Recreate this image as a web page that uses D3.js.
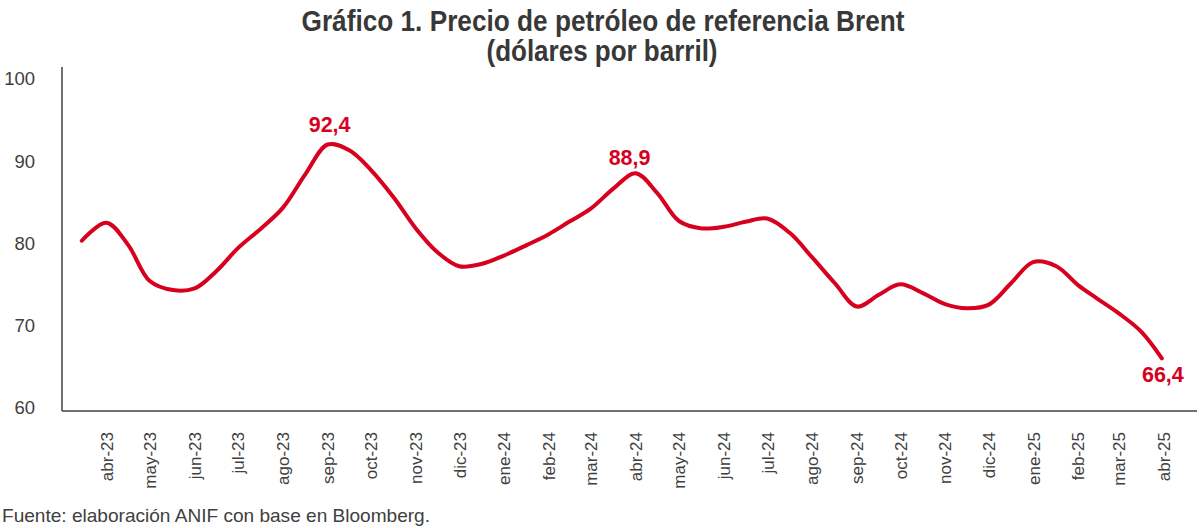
<!DOCTYPE html>
<html>
<head>
<meta charset="utf-8">
<script src="https://cdn.jsdelivr.net/npm/d3@7"></script>
<style>
  body { margin: 0; background: #fff; }
  svg { display: block; font-family: "Liberation Sans", Arial, sans-serif; }
</style>
</head>
<body>
<div id="chart"></div>
<script>
// --- data ---
var months = ["abr-23", "may-23", "jun-23", "jul-23", "ago-23", "sep-23", "oct-23", "nov-23",
              "dic-23", "ene-24", "feb-24", "mar-24", "abr-24", "may-24", "jun-24", "jul-24",
              "ago-24", "sep-24", "oct-24", "nov-24", "dic-24", "ene-25", "feb-25", "mar-25", "abr-25"];
var yTicks = [60, 70, 80, 90, 100];

// Brent
var dates = ["2023-03-30", "2023-04-16", "2023-05-01", "2023-05-16", "2023-06-01", "2023-06-16",
             "2023-07-01", "2023-07-16", "2023-08-01", "2023-08-16", "2023-09-01", "2023-09-16",
             "2023-10-01", "2023-10-16", "2023-11-01", "2023-11-16", "2023-12-01", "2023-12-16",
             "2024-01-01", "2024-01-16", "2024-02-01", "2024-02-16", "2024-03-01", "2024-03-16",
             "2024-04-01", "2024-04-16", "2024-05-01", "2024-05-16", "2024-06-01", "2024-06-16",
             "2024-07-01", "2024-07-16", "2024-08-01", "2024-08-16", "2024-09-01", "2024-09-16",
             "2024-10-01", "2024-10-16", "2024-11-01", "2024-11-16", "2024-12-01", "2024-12-16",
             "2025-01-01", "2025-01-16", "2025-02-01", "2025-02-16", "2025-03-01", "2025-03-16",
             "2025-04-01", "2025-04-15"];
var prices = [80.7, 82.9, 80.2, 75.8, 74.7, 74.9,
              77.0, 79.8, 82.2, 84.7, 88.9, 92.4,
              91.7, 89.3, 85.9, 82.2, 79.3, 77.6,
              77.9, 78.9, 80.2, 81.5, 83.0, 84.6,
              87.1, 88.9, 86.5, 83.1, 82.2, 82.4,
              83.0, 83.4, 81.6, 78.7, 75.5, 72.7,
              74.1, 75.4, 74.3, 73.0, 72.5, 72.9,
              75.6, 78.1, 77.6, 75.3, 73.7, 71.9,
              69.6, 66.4];

var labelDates = ["2023-09-16", "2024-04-16", "2025-04-15"];
var labelTexts = ["92,4", "88,9", "66,4"];

// --- setup ---
var red = "#d7001e";
var ink = "#404040";
var parse = d3.timeParse("%Y-%m-%d");

var svg = d3.select("#chart").append("svg")
    .attr("width", 1200)
    .attr("height", 528);

var x = d3.scaleTime()
    .domain([new Date(2023, 3, 1), new Date(2025, 4, 1)])
    .range([84.7, 1185]);

var y = d3.scaleLinear()
    .domain([60, 100])
    .range([411, 82]);

var series = dates.map((d, i) => ({ date: parse(d), v: prices[i] }));

// Title
var title = svg.append("g")
    .attr("font-weight", "bold")
    .attr("font-size", "29px")
    .attr("fill", "#383838")
    .attr("text-anchor", "middle");

title.append("text")
    .attr("x", 603).attr("y", 31)
    .attr("textLength", 603).attr("lengthAdjust", "spacingAndGlyphs")
    .text("Gráfico 1. Precio de petróleo de referencia Brent");

title.append("text")
    .attr("x", 602).attr("y", 61)
    .attr("textLength", 231).attr("lengthAdjust", "spacingAndGlyphs")
    .text("(dólares por barril)");

// Y axis
var yAxis = svg.append("g")
    .attr("transform", "translate(62,0)")
    .call(d3.axisLeft(y).tickValues(yTicks).tickSize(0).tickPadding(27));
yAxis.select(".domain").remove();
yAxis.selectAll("text")
    .attr("y", -3)
    .attr("font-size", "18.5px")
    .attr("font-family", "Liberation Sans, Arial, sans-serif")
    .attr("fill", ink);

// X axis (month labels centred in each month)
var monthDates = months.map((m, i) => new Date(2023, 3 + i, 16));
var xAxis = svg.append("g")
    .attr("transform", "translate(0,411)")
    .call(d3.axisBottom(x).tickValues(monthDates).tickFormat((d, i) => months[i]).tickSize(0));
xAxis.select(".domain").remove();
xAxis.selectAll("text")
    .attr("transform", "rotate(-90)")
    .attr("x", -21)
    .attr("y", 0)
    .attr("dy", "0.35em")
    .style("text-anchor", "end")
    .attr("font-size", "17px")
    .attr("font-family", "Liberation Sans, Arial, sans-serif")
    .attr("fill", ink);

// axis lines
svg.append("line")
    .attr("x1", 62).attr("x2", 62)
    .attr("y1", y(60)).attr("y2", 67)
    .attr("stroke", ink).attr("stroke-width", 1.5);
svg.append("line")
    .attr("x1", 62).attr("x2", 1197)
    .attr("y1", y(60)).attr("y2", y(60))
    .attr("stroke", ink).attr("stroke-width", 1.5);

// Line
var line = d3.line()
    .x(d => x(d.date))
    .y(d => y(d.v))
    .curve(d3.curveCatmullRom.alpha(0.5));

svg.append("path")
    .datum(series)
    .attr("d", line)
    .attr("fill", "none")
    .attr("stroke", red)
    .attr("stroke-width", 4)
    .attr("stroke-linecap", "round")
    .attr("stroke-linejoin", "round");

// Value labels
var labelDx = [2, -6, 1];
var labelDy = [-13, -8, 24];
svg.selectAll("text.val")
    .data(labelDates)
    .enter()
    .append("text")
    .attr("class", "val")
    .attr("x", (d, i) => x(parse(d)) + labelDx[i])
    .attr("y", (d, i) => y(prices[dates.indexOf(d)]) + labelDy[i])
    .attr("text-anchor", "middle")
    .attr("font-size", "21.5px")
    .attr("font-weight", "bold")
    .attr("fill", red)
    .text((d, i) => labelTexts[i]);

// Source
svg.append("text")
    .attr("x", 2).attr("y", 522)
    .attr("font-size", "18.5px")
    .attr("fill", ink)
    .attr("textLength", 428).attr("lengthAdjust", "spacingAndGlyphs")
    .text("Fuente: elaboración ANIF con base en Bloomberg.");
</script>
</body>
</html>
